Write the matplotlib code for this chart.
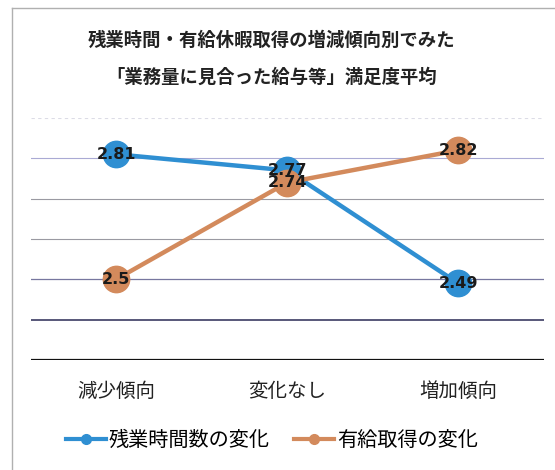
import matplotlib
matplotlib.use("Agg")
import matplotlib.pyplot as plt
from matplotlib.lines import Line2D

plt.rcParams['font.family'] = ['Noto Sans CJK JP', 'DejaVu Sans']

categories = ["減少傾向", "変化なし", "増加傾向"]
overtime = [2.81, 2.77, 2.49]
paid_leave = [2.5, 2.74, 2.82]
series_names = ["残業時間数の変化", "有給取得の変化"]
title_lines = ["残業時間・有給休暇取得の増減傾向別でみた", "「業務量に見合った給与等」満足度平均"]

blue = "#2f8fd2"
orange = "#d38a5c"

fig = plt.figure(figsize=(5.55, 4.7), dpi=100)
ax = fig.add_axes([0.055, 0.234, 0.925, 0.515])

x = list(range(len(categories)))
ax.set_xlim(-0.5, 2.5)
ax.set_ylim(2.3, 2.9)

# gridlines (scanned look: bottom ones darker)
grid_styles = {2.3: ("#111111", 1.6), 2.4: ("#2a2a55", 1.1), 2.5: ("#77779f", 0.9),
               2.6: ("#9a9aa2", 0.8), 2.7: ("#9a9aa2", 0.8), 2.8: ("#aaaad4", 0.8)}
for yv, (c, lw) in grid_styles.items():
    ax.axhline(yv, color=c, lw=lw, zorder=1)
ax.axhline(2.9, color="#dcdce6", lw=0.8, ls=(0, (3, 3)), zorder=1)

for vals, col in [(overtime, blue), (paid_leave, orange)]:
    ax.plot(x, vals, color=col, lw=3.2, marker="o", markersize=19, zorder=3)
for vals in (overtime, paid_leave):
    for xi, v in zip(x, vals):
        ax.text(xi, v, f"{v:g}", ha="center", va="center", fontsize=11.5,
                color="#1a1a1a", fontweight="bold", family=["DejaVu Sans"], zorder=5)

for s in ax.spines.values():
    s.set_visible(False)
ax.set_yticks([])
ax.set_xticks(x)
ax.set_xticklabels(categories, fontsize=14, color="#222222")
ax.tick_params(axis="x", length=0, pad=15)

fig.text(0.49, 0.915, title_lines[0], ha="center", va="center",
         fontsize=13.2, fontweight="bold", color="#222222")
fig.text(0.49, 0.835, title_lines[1], ha="center", va="center",
         fontsize=13.2, fontweight="bold", color="#222222")

handles = [Line2D([0], [0], color=blue, lw=3, marker="o", markersize=7),
           Line2D([0], [0], color=orange, lw=3, marker="o", markersize=7)]
fig.legend(handles, series_names, loc="center", bbox_to_anchor=(0.49, 0.062), ncol=2,
           frameon=False, fontsize=14.5, handlelength=2.0, handletextpad=0.15,
           columnspacing=1.2)

# chart frame
fig.add_artist(Line2D([12 / 555, 12 / 555], [0, 1 - 8 / 470], transform=fig.transFigure,
                      color="#b0b0b0", lw=1.0))
fig.add_artist(Line2D([12 / 555, 1], [1 - 8 / 470, 1 - 8 / 470], transform=fig.transFigure,
                      color="#b0b0b0", lw=1.0))

fig.savefig("out.png", dpi=100, facecolor="white")
